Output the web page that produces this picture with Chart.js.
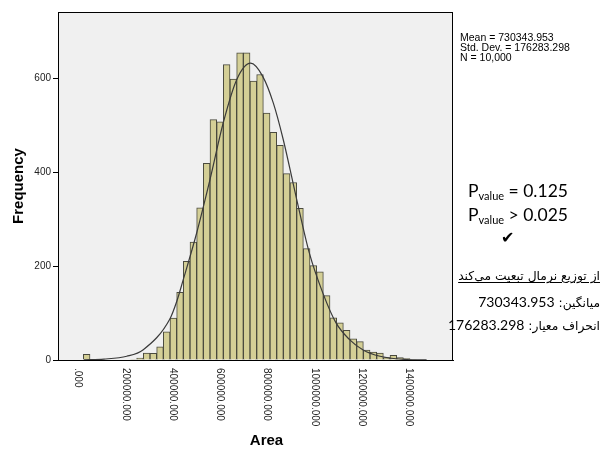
<!DOCTYPE html>
<html>
<head>
<meta charset="utf-8">
<script src="https://cdn.jsdelivr.net/npm/chart.js@4.4.1/dist/chart.umd.min.js"></script>
<style>
  html, body { margin: 0; padding: 0; background: #fff; }
  #wrap { position: relative; width: 603px; height: 450px; overflow: hidden; }
  #chart { position: absolute; left: 0; top: 0; }
  .stats { position: absolute; left: 460px; font: 10.5px Arial, "Liberation Sans", sans-serif; color: #000; white-space: nowrap; line-height: 10px; }
  .pval { position: absolute; left: 448px; width: 140px; text-align: center; font: 17.5px Lato, "Open Sans", sans-serif; color: #000; line-height: 17px; white-space: nowrap; }
  .pval sub { font-size: 11px; vertical-align: -3px; line-height: 0; }
  .check { position: absolute; left: 501px; top: 228px; font: bold 16px "DejaVu Sans", sans-serif; color: #000; }
  .fa { position: absolute; right: 3px; direction: rtl; text-align: right; font: 12.3px "DejaVu Sans", sans-serif; color: #000; white-space: nowrap; line-height: 16px; }
  .fa b { font: 14px Lato, sans-serif; }
  .fa.u { text-decoration: underline; text-underline-offset: 2px; }
</style>
</head>
<body>
<div id="wrap">
  <canvas id="chart" width="603" height="450"></canvas>

  <div class="stats" style="top:32px">Mean = 730343.953</div>
  <div class="stats" style="top:42px">Std. Dev. = 176283.298</div>
  <div class="stats" style="top:52px">N = 10,000</div>

  <div class="pval" style="top:182px">P<sub>value</sub> = 0.125</div>
  <div class="pval" style="top:206px">P<sub>value</sub> &gt; 0.025</div>
  <div class="check">&#10004;</div>

  <div class="fa u" style="top:268px">از توزیع نرمال تبعیت می‌کند</div>
  <div class="fa" style="top:293px">میانگین: <b>730343.953</b></div>
  <div class="fa" style="top:316px">انحراف معیار: <b>176283.298</b></div>
</div>

<script>
/* ===========================
   DATA
=========================== */
// histogram bins: centre of first bin and bin width (Area units)
const firstBinCenter = 36640;
const binWidth = 28190;

// frequency of each bin, left to right
const binCounts = [
  12, 0, 0, 0, 0, 0, 0, 1, 4,
  15, 14, 28, 60, 89, 144, 210, 251, 324, 419,
  512, 507, 629, 598, 654, 654, 594, 608, 526, 485,
  457, 397, 378, 323, 237, 201, 188, 137, 90, 79,
  63, 45, 39, 21, 17, 15, 5, 10, 5, 3, 1
];

// fitted normal curve
const curveX = [25000, 110000, 206000, 276000, 389000, 417000, 445000, 502000, 558000,
                614000, 671000, 730000, 781000, 826000, 868000, 922000, 978000,
                1035000, 1091000, 1147000, 1204000, 1277000, 1390000, 1474000];
const curveY = [0.3, 2, 8, 22, 88, 124, 171, 271, 384,
                505, 597, 632, 604, 547, 469, 348, 228,
                143, 79, 44, 22, 8, 1, 0.2];

const xTickValues = [0, 200000, 400000, 600000, 800000, 1000000, 1200000, 1400000];
const xTickLabels = [".000", "200000.000", "400000.000", "600000.000",
                     "800000.000", "1000000.000", "1200000.000", "1400000.000"];

/* ===========================
   BUILD SERIES
=========================== */
const bars = [];
binCounts.forEach((c, i) => {
  if (c > 0) bars.push({ x: firstBinCenter + i * binWidth, y: c });
});
const curve = curveX.map((x, i) => ({ x: x, y: curveY[i] }));

/* ===========================
   PLUGINS
=========================== */
const frame = {
  id: "frame",
  beforeDraw(chart) {
    const { ctx, chartArea: a } = chart;
    ctx.save();
    ctx.fillStyle = "#f0f0f0";
    ctx.fillRect(a.left, a.top, a.right - a.left, a.bottom - a.top);
    ctx.restore();
  },
  afterDraw(chart) {
    const { ctx, chartArea: a, scales: { x } } = chart;
    ctx.save();
    ctx.strokeStyle = "#000";
    ctx.lineWidth = 1;
    ctx.strokeRect(a.left + 0.5, a.top + 0.5, a.right - a.left - 1, a.bottom - a.top);

    // rotated x tick labels (read top to bottom)
    ctx.font = "10px Arial, 'Liberation Sans', sans-serif";
    ctx.fillStyle = "#222";
    ctx.textAlign = "left";
    ctx.textBaseline = "middle";
    xTickValues.forEach((v, i) => {
      ctx.save();
      ctx.translate(x.getPixelForValue(v), a.bottom + 8);
      ctx.rotate(Math.PI / 2);
      ctx.fillText(xTickLabels[i], 0, 0);
      ctx.restore();
    });

    // x axis title
    ctx.font = "bold 15px Arial, 'Liberation Sans', sans-serif";
    ctx.fillStyle = "#000";
    ctx.textAlign = "center";
    ctx.fillText("Area", (a.left + a.right) / 2 + 11, 441);
    ctx.restore();
  }
};

/* ===========================
   CHART
=========================== */
new Chart(document.getElementById("chart"), {
  type: "bar",
  data: {
    datasets: [
      {
        type: "line",
        data: curve,
        borderColor: "#3a3a3a",
        borderWidth: 1.2,
        pointRadius: 0,
        cubicInterpolationMode: "monotone",
        fill: false,
        order: 0
      },
      {
        type: "bar",
        data: bars,
        backgroundColor: "#d4cf96",
        borderColor: "#4a4a3e",
        borderWidth: 1,
        borderSkipped: "bottom",
        barPercentage: 1,
        categoryPercentage: 1,
        order: 1
      }
    ]
  },
  options: {
    responsive: false,
    animation: false,
    layout: { padding: { top: 12, right: 150, bottom: 0, left: 0 } },
    plugins: { legend: { display: false }, tooltip: { enabled: false } },
    scales: {
      x: {
        type: "linear",
        min: -84600,
        max: 1585600,
        offset: false,
        ticks: { display: false, stepSize: 200000, includeBounds: false },
        grid: {
          drawOnChartArea: false,
          drawTicks: true,
          tickLength: 6,
          offset: false,
          color: c => (c.tick && xTickValues.includes(c.tick.value)) ? "#000" : "rgba(0,0,0,0)"
        },
        border: { display: true, color: "#000" },
        afterFit: s => { s.height = 90; }
      },
      y: {
        min: 0,
        max: 741,
        ticks: {
          stepSize: 200,
          includeBounds: false,
          padding: 2,
          color: "#222",
          font: { family: "Arial, 'Liberation Sans', sans-serif", size: 10 }
        },
        grid: { drawOnChartArea: false, tickLength: 5, color: "#000" },
        border: { display: true, color: "#000" },
        title: {
          display: true,
          text: "Frequency",
          color: "#000",
          font: { family: "Arial, 'Liberation Sans', sans-serif", size: 15, weight: "bold" },
          padding: { top: 10, bottom: 0 }
        },
        afterFit: s => { s.width = 58; }
      }
    }
  },
  plugins: [frame]
});
</script>
</body>
</html>
